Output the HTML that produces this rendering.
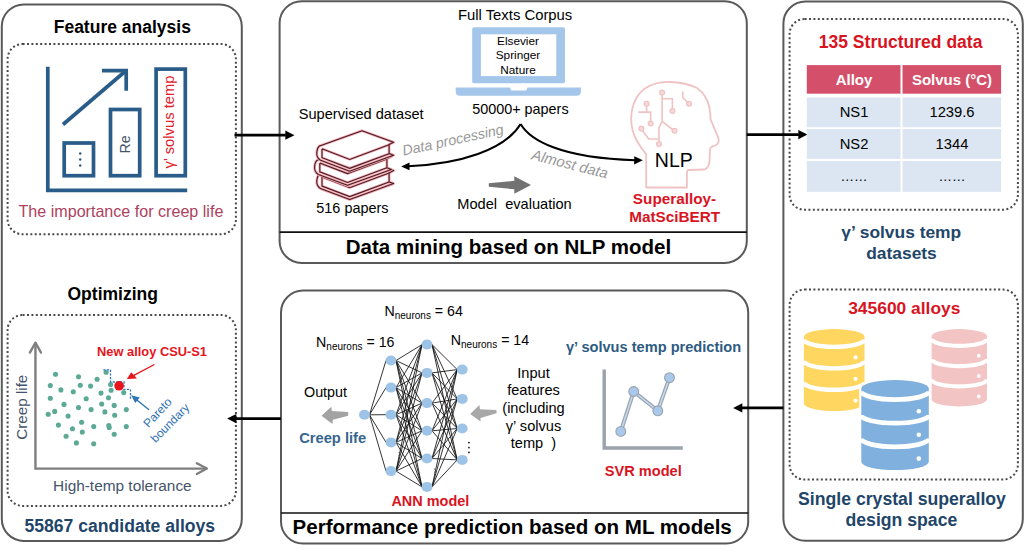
<!DOCTYPE html>
<html><head><meta charset="utf-8"><style>
html,body{margin:0;padding:0;background:#fff;}
svg{display:block;font-family:"Liberation Sans", sans-serif;}
</style></head><body>
<svg width="1024" height="552" viewBox="0 0 1024 552">
<rect width="1024" height="552" fill="#fff"/>
<rect x="1.8" y="4.4" width="240.0" height="536.6" rx="22" ry="22" fill="none" stroke="#595959" stroke-width="2"/>
<rect x="279.6" y="1.2" width="467.19999999999993" height="261.7" rx="22" ry="22" fill="none" stroke="#595959" stroke-width="2"/>
<rect x="281.0" y="290.5" width="467.20000000000005" height="253.10000000000002" rx="22" ry="22" fill="none" stroke="#595959" stroke-width="2"/>
<rect x="783.4" y="1.5" width="239.39999999999998" height="539.3" rx="22" ry="22" fill="none" stroke="#595959" stroke-width="2"/>
<line x1="279.6" y1="232.2" x2="746.8" y2="232.2" stroke="#111" stroke-width="1.7"/>
<line x1="281" y1="513" x2="748.2" y2="513" stroke="#111" stroke-width="1.7"/>
<rect x="7.6" y="44.0" width="228.3" height="190.3" rx="15" ry="15" fill="none" stroke="#4a4a4a" stroke-width="2" stroke-dasharray="2 2.4"/>
<rect x="7.6" y="315.0" width="228.3" height="190.89999999999998" rx="15" ry="15" fill="none" stroke="#4a4a4a" stroke-width="2" stroke-dasharray="2 2.4"/>
<rect x="789.6" y="19.0" width="228.29999999999995" height="190.8" rx="15" ry="15" fill="none" stroke="#4a4a4a" stroke-width="2" stroke-dasharray="2 2.4"/>
<rect x="789.6" y="289.6" width="228.29999999999995" height="190.0" rx="15" ry="15" fill="none" stroke="#4a4a4a" stroke-width="2" stroke-dasharray="2 2.4"/>
<line x1="234.5" y1="135.2" x2="285.8" y2="135.2" stroke="#000" stroke-width="2.7"/>
<polygon points="294.5,135.2 285.3,130.6 285.3,139.79999999999998" fill="#000"/>
<line x1="746.8" y1="134.6" x2="798.8" y2="134.6" stroke="#000" stroke-width="2.7"/>
<polygon points="807.5,134.6 798.3,130.0 798.3,139.2" fill="#000"/>
<line x1="783.4" y1="407.9" x2="741.8000000000001" y2="407.9" stroke="#000" stroke-width="2.7"/>
<polygon points="733.1,407.9 742.3000000000001,403.29999999999995 742.3000000000001,412.5" fill="#000"/>
<line x1="280.9" y1="418.6" x2="235.79999999999998" y2="418.6" stroke="#000" stroke-width="2.7"/>
<polygon points="227.1,418.6 236.29999999999998,414.0 236.29999999999998,423.20000000000005" fill="#000"/>
<text x="122.3" y="33.4" font-size="17.5" font-weight="bold"  fill="#000" text-anchor="middle" >Feature analysis</text>
<polyline points="47.8,66.8 47.8,190.4 187.2,190.4" fill="none" stroke="#295c88" stroke-width="3.7"/>
<rect x="64.2" y="143" width="29.3" height="32.7" fill="none" stroke="#295c88" stroke-width="3.7"/>
<rect x="110.5" y="109.5" width="29.2" height="66.2" fill="none" stroke="#295c88" stroke-width="3.7"/>
<rect x="156.1" y="69.1" width="29.2" height="106.6" fill="none" stroke="#295c88" stroke-width="3.7"/>
<line x1="63" y1="124.5" x2="125" y2="71.5" stroke="#295c88" stroke-width="3.7"/>
<polyline points="102,70.6 126.2,70.6 126.2,90.7" fill="none" stroke="#295c88" stroke-width="3.7"/>
<circle cx="80.2" cy="153.5" r="1.2" fill="#2f5678"/>
<circle cx="80.2" cy="159.5" r="1.2" fill="#2f5678"/>
<circle cx="80.2" cy="165.5" r="1.2" fill="#2f5678"/>
<text x="0" y="0" font-size="14.2" fill="#44546a" text-anchor="middle" transform="translate(130.4,144.5) rotate(-90)">Re</text>
<text x="0" y="0" font-size="14.8" fill="#e0202a" text-anchor="middle" transform="translate(174.3,122) rotate(-90)">γ’ solvus temp</text>
<text x="18.5" y="216.8" font-size="16.1"   fill="#ad4260" text-anchor="start" >The importance for creep life</text>
<text x="67.5" y="299.6" font-size="17.5" font-weight="bold"  fill="#000" text-anchor="start" >Optimizing</text>
<polyline points="35.45,343 35.45,468.6 206.5,468.6" fill="none" stroke="#7f7f7f" stroke-width="2.4"/>
<polyline points="29.9,352.6 35.45,342.6 41,352.6" fill="none" stroke="#7f7f7f" stroke-width="2.3" stroke-linecap="round" stroke-linejoin="round"/>
<polyline points="196.8,463.3 206.9,468.6 196.8,474" fill="none" stroke="#7f7f7f" stroke-width="2.3" stroke-linecap="round" stroke-linejoin="round"/>
<text x="0" y="0" font-size="15.2" fill="#44546a" text-anchor="middle" transform="translate(27.2,407.2) rotate(-90)">Creep life</text>
<text x="53.1" y="490.8" font-size="15.4"   fill="#44546a" text-anchor="start" >High-temp tolerance</text>
<circle cx="55.5" cy="374.2" r="2.55" fill="#5caa96"/>
<circle cx="78.5" cy="376.8" r="2.55" fill="#5caa96"/>
<circle cx="97.1" cy="379.2" r="2.55" fill="#5caa96"/>
<circle cx="106.1" cy="372.2" r="2.55" fill="#5caa96"/>
<circle cx="50.3" cy="385.6" r="2.55" fill="#5caa96"/>
<circle cx="60.9" cy="389.9" r="2.55" fill="#5caa96"/>
<circle cx="73.3" cy="391.8" r="2.55" fill="#5caa96"/>
<circle cx="80.3" cy="385.3" r="2.55" fill="#5caa96"/>
<circle cx="90.6" cy="386.1" r="2.55" fill="#5caa96"/>
<circle cx="110.6" cy="384.5" r="2.55" fill="#5caa96"/>
<circle cx="111.1" cy="390.3" r="2.55" fill="#5caa96"/>
<circle cx="101" cy="393.1" r="2.55" fill="#5caa96"/>
<circle cx="123.7" cy="392.6" r="2.55" fill="#5caa96"/>
<circle cx="50.3" cy="398.3" r="2.55" fill="#5caa96"/>
<circle cx="86.2" cy="398.8" r="2.55" fill="#5caa96"/>
<circle cx="108.5" cy="397.7" r="2.55" fill="#5caa96"/>
<circle cx="64" cy="404.4" r="2.55" fill="#5caa96"/>
<circle cx="78.5" cy="407.6" r="2.55" fill="#5caa96"/>
<circle cx="101.7" cy="404" r="2.55" fill="#5caa96"/>
<circle cx="114.2" cy="405.4" r="2.55" fill="#5caa96"/>
<circle cx="54.7" cy="411.4" r="2.55" fill="#5caa96"/>
<circle cx="48.2" cy="414.3" r="2.55" fill="#5caa96"/>
<circle cx="68.1" cy="416.1" r="2.55" fill="#5caa96"/>
<circle cx="91.1" cy="409.6" r="2.55" fill="#5caa96"/>
<circle cx="104.9" cy="411.9" r="2.55" fill="#5caa96"/>
<circle cx="114.7" cy="415.3" r="2.55" fill="#5caa96"/>
<circle cx="126.3" cy="409.6" r="2.55" fill="#5caa96"/>
<circle cx="58.4" cy="425.1" r="2.55" fill="#5caa96"/>
<circle cx="81.6" cy="422.2" r="2.55" fill="#5caa96"/>
<circle cx="72.5" cy="428.8" r="2.55" fill="#5caa96"/>
<circle cx="93.7" cy="426.6" r="2.55" fill="#5caa96"/>
<circle cx="108.8" cy="425.6" r="2.55" fill="#5caa96"/>
<circle cx="109.2" cy="427.5" r="2.55" fill="#5caa96"/>
<circle cx="126.3" cy="426.6" r="2.55" fill="#5caa96"/>
<circle cx="82.3" cy="432.1" r="2.55" fill="#5caa96"/>
<circle cx="66.1" cy="436.2" r="2.55" fill="#5caa96"/>
<circle cx="114.2" cy="434.2" r="2.55" fill="#5caa96"/>
<circle cx="76.4" cy="442.9" r="2.55" fill="#5caa96"/>
<circle cx="93.7" cy="443.8" r="2.55" fill="#5caa96"/>
<polyline points="103.3,369.8 110.5,369.8 110.5,382 124,382 124,389.4 130.5,389.4 130.5,400" fill="none" stroke="#2e75b6" stroke-width="1.3" stroke-dasharray="2.2 1.4"/>
<circle cx="119.1" cy="385.8" r="4.8" fill="#e8141c"/>
<line x1="154.4" y1="364.5" x2="132" y2="376.3" stroke="#e8141c" stroke-width="1.4"/>
<polygon points="126.9,379 131.2,372.3 137,378.5" fill="#e8141c"/>
<line x1="149" y1="409.8" x2="135" y2="398.5" stroke="#2e75b6" stroke-width="1.4"/>
<polygon points="131.2,395.3 139.8,397.6 135.2,403" fill="#2e75b6"/>
<text x="97.1" y="356" font-size="12.85" font-weight="bold"  fill="#e8141c" text-anchor="start" >New alloy CSU-S1</text>
<text font-size="12.0" fill="#3070b0" transform="translate(148.5,428.3) rotate(-47)">Pareto</text>
<text font-size="11.8" fill="#3070b0" transform="translate(155.5,443.2) rotate(-45)">boundary</text>
<text x="24.4" y="531.6" font-size="17.6" font-weight="bold"  fill="#1f4669" text-anchor="start" >55867 candidate alloys</text>
<text x="457.9" y="20.2" font-size="14.85"   fill="#000" text-anchor="start" >Full Texts Corpus</text>
<rect x="472.2" y="27.2" width="92.8" height="56.1" rx="2" fill="#a4c6ea"/>
<rect x="480.9" y="34.3" width="75.4" height="41.8" fill="#fff"/>
<path d="M455.7,87.5 H580.9 V91.3 Q580.9,95.8 576.4,95.8 H460.2 Q455.7,95.8 455.7,91.3 Z" fill="#a4c6ea"/>
<path d="M509.8,87 H527.6 L526.2,90.5 H511.2 Z" fill="#fff"/>
<text x="518" y="45.2" font-size="11.8"   fill="#000" text-anchor="middle" >Elsevier</text>
<text x="518" y="59.3" font-size="11.8"   fill="#000" text-anchor="middle" >Springer</text>
<text x="518" y="73.5" font-size="11.8"   fill="#000" text-anchor="middle" >Nature</text>
<text x="472.2" y="114.1" font-size="14.4"   fill="#000" text-anchor="start" >50000+ papers</text>
<text x="298.7" y="118.5" font-size="14.6"   fill="#000" text-anchor="start" >Supervised dataset</text>
<text x="316.3" y="212.6" font-size="14.45"   fill="#000" text-anchor="start" >516 papers</text>
<g transform="translate(0,28.3)"><path d="M319.5,146 L362,130.8 L393.6,142.3 L389.1,144.6 L389.1,153.6 L393.6,155.3 L349.7,171.2 L320.5,160.3 Q316.3,157.5 316.8,152.5 Q317.3,147.5 319.5,146 Z" fill="#fff" stroke="#f2a8b0" stroke-width="2.8" stroke-linejoin="round"/><path d="M322,148.8 L349.7,159.4 L389.1,144.8 M322,148.8 L322,157.7 L349.7,168.3 L389.1,153.7" fill="none" stroke="#f2a8b0" stroke-width="2.6"/><path d="M319.5,146 L362,130.8 L393.6,142.3 L389.1,144.6 L389.1,153.6 L393.6,155.3 L349.7,171.2 L320.5,160.3 Q316.3,157.5 316.8,152.5 Q317.3,147.5 319.5,146 Z" fill="none" stroke="#4a1c24" stroke-width="1.1" stroke-linejoin="round"/><path d="M322,148.8 L349.7,159.4 L389.1,144.8 M322,148.8 L322,157.7 L349.7,168.3 L389.1,153.7" fill="none" stroke="#4a1c24" stroke-width="1.1"/></g>
<g transform="translate(-2.2,14.15)"><path d="M319.5,146 L362,130.8 L393.6,142.3 L389.1,144.6 L389.1,153.6 L393.6,155.3 L349.7,171.2 L320.5,160.3 Q316.3,157.5 316.8,152.5 Q317.3,147.5 319.5,146 Z" fill="#fff" stroke="#f2a8b0" stroke-width="2.8" stroke-linejoin="round"/><path d="M322,148.8 L349.7,159.4 L389.1,144.8 M322,148.8 L322,157.7 L349.7,168.3 L389.1,153.7" fill="none" stroke="#f2a8b0" stroke-width="2.6"/><path d="M319.5,146 L362,130.8 L393.6,142.3 L389.1,144.6 L389.1,153.6 L393.6,155.3 L349.7,171.2 L320.5,160.3 Q316.3,157.5 316.8,152.5 Q317.3,147.5 319.5,146 Z" fill="none" stroke="#4a1c24" stroke-width="1.1" stroke-linejoin="round"/><path d="M322,148.8 L349.7,159.4 L389.1,144.8 M322,148.8 L322,157.7 L349.7,168.3 L389.1,153.7" fill="none" stroke="#4a1c24" stroke-width="1.1"/></g>
<g transform="translate(0,0)"><path d="M319.5,146 L362,130.8 L393.6,142.3 L389.1,144.6 L389.1,153.6 L393.6,155.3 L349.7,171.2 L320.5,160.3 Q316.3,157.5 316.8,152.5 Q317.3,147.5 319.5,146 Z" fill="#fff" stroke="#f2a8b0" stroke-width="2.8" stroke-linejoin="round"/><path d="M322,148.8 L349.7,159.4 L389.1,144.8 M322,148.8 L322,157.7 L349.7,168.3 L389.1,153.7" fill="none" stroke="#f2a8b0" stroke-width="2.6"/><path d="M319.5,146 L362,130.8 L393.6,142.3 L389.1,144.6 L389.1,153.6 L393.6,155.3 L349.7,171.2 L320.5,160.3 Q316.3,157.5 316.8,152.5 Q317.3,147.5 319.5,146 Z" fill="none" stroke="#4a1c24" stroke-width="1.1" stroke-linejoin="round"/><path d="M322,148.8 L349.7,159.4 L389.1,144.8 M322,148.8 L322,157.7 L349.7,168.3 L389.1,153.7" fill="none" stroke="#4a1c24" stroke-width="1.1"/></g>
<path d="M520.6,124 C505,150 460,164 408,166.3" fill="none" stroke="#000" stroke-width="2"/>
<polygon points="401.2,166.4 409.5,162.6 409.5,170.2" fill="#000"/>
<path d="M520.6,124 C530,140 560,158 635,160.2" fill="none" stroke="#000" stroke-width="2"/>
<polygon points="642.8,160.3 634.3,156.2 634.1,164.6" fill="#000"/>
<text font-size="14.3" font-style="italic" fill="#999" transform="translate(403.4,155.6) rotate(-12.2)">Data processing</text>
<text font-size="14.8" font-style="italic" fill="#999" transform="translate(530.8,159.2) rotate(14.4)">Almost data</text>
<path d="M488.8,183.2 L514.3,180.8 L514.3,176.2 L531,185.1 L514.3,193.7 L514.3,189.3 L488.8,186.7 Z" fill="#727272"/>
<text x="457.3" y="209.2" font-size="14.6"   fill="#000" text-anchor="start" >Model&#160; evaluation</text>
<path d="M646.2,187.5 L646.2,154.4 Q641,148 637,141 Q631,131 631.2,118 Q632,98 645,88.5 Q656,81.5 669.3,82 Q686,82.5 697,88 Q707,95 709.5,108 Q710.5,114 710.6,119.3 L718.2,137.5 Q719.5,141 717.5,143.5 Q716.5,145.8 712,146.5 L710.2,148.5 Q709.6,154 709.6,160.6 Q709,168 704.5,169.5 L688,170 Q686.9,171 686.9,173 L686.9,187.5 Z" fill="none" stroke="#efc3c3" stroke-width="1.8" stroke-linejoin="round"/>
<path d="M662.1,94.9 V121.4 L672.6,129.5 M662.1,98.7 H672.4 V108.6 M662.1,121.4 L659,127.6 V141.7 M646.6,106.2 V112.1 M638.3,112.1 H650.7 V121.1 M642.6,130.7 L648.7,139 H659 M682.8,91.4 V97.6 L687.3,102" fill="none" stroke="#efc3c3" stroke-width="1.6"/>
<circle cx="662.1" cy="92.5" r="2.4" fill="#f8dada" stroke="#efc3c3" stroke-width="1.3"/>
<circle cx="672.4" cy="111" r="2.4" fill="#f8dada" stroke="#efc3c3" stroke-width="1.3"/>
<circle cx="674.5" cy="130.7" r="2.4" fill="#f8dada" stroke="#efc3c3" stroke-width="1.3"/>
<circle cx="659" cy="144.1" r="2.4" fill="#f8dada" stroke="#efc3c3" stroke-width="1.3"/>
<circle cx="646.6" cy="103.8" r="2.4" fill="#f8dada" stroke="#efc3c3" stroke-width="1.3"/>
<circle cx="650.7" cy="123.5" r="2.4" fill="#f8dada" stroke="#efc3c3" stroke-width="1.3"/>
<circle cx="641.4" cy="128.6" r="2.4" fill="#f8dada" stroke="#efc3c3" stroke-width="1.3"/>
<circle cx="689" cy="103.8" r="2.4" fill="#f8dada" stroke="#efc3c3" stroke-width="1.3"/>
<text x="673.8" y="167.4" font-size="19.5"   fill="#000" text-anchor="middle" >NLP</text>
<text x="674.5" y="204.1" font-size="15.3" font-weight="bold"  fill="#d8141f" text-anchor="middle" >Superalloy-</text>
<text x="674.75" y="222.3" font-size="15.3" font-weight="bold"  fill="#d8141f" text-anchor="middle" >MatSciBERT</text>
<text x="345.8" y="254.4" font-size="20.5" font-weight="bold"  fill="#000" text-anchor="start" >Data mining based on NLP model</text>
<text x="900.6" y="48.3" font-size="17.55" font-weight="bold"  fill="#d8141f" text-anchor="middle" >135 Structured data</text>
<rect x="806.8" y="65.1" width="194.3" height="28.6" fill="#d4506a"/>
<rect x="806.8" y="97.5" width="194.3" height="29.700000000000003" fill="#dce6f2"/>
<rect x="806.8" y="129" width="194.3" height="29.900000000000006" fill="#dce6f2"/>
<rect x="806.8" y="161" width="194.3" height="30.900000000000006" fill="#dce6f2"/>
<rect x="900.5" y="65" width="2" height="127" fill="#fff"/>
<text x="854" y="85.4" font-size="15" font-weight="bold"  fill="#fff" text-anchor="middle" >Alloy</text>
<text x="952" y="85.4" font-size="15" font-weight="bold"  fill="#fff" text-anchor="middle" >Solvus (°C)</text>
<text x="854" y="117.1" font-size="14.75"   fill="#000" text-anchor="middle" >NS1</text>
<text x="952" y="117.1" font-size="14.75"   fill="#000" text-anchor="middle" >1239.6</text>
<text x="854" y="148.8" font-size="14.75"   fill="#000" text-anchor="middle" >NS2</text>
<text x="952" y="148.8" font-size="14.75"   fill="#000" text-anchor="middle" >1344</text>
<text x="854" y="180.5" font-size="13.5"   fill="#000" text-anchor="middle" >……</text>
<text x="952" y="180.5" font-size="13.5"   fill="#000" text-anchor="middle" >……</text>
<text x="901.3" y="237.7" font-size="17.4" font-weight="bold"  fill="#1f4669" text-anchor="middle" >γ’ solvus temp</text>
<text x="901.5" y="258.5" font-size="17.4" font-weight="bold"  fill="#1f4669" text-anchor="middle" >datasets</text>
<text x="904.3" y="313.7" font-size="17.4" font-weight="bold"  fill="#d8141f" text-anchor="middle" >345600 alloys</text>
<g transform="translate(931.6,329.1) scale(0.8207407407407408,0.8588888888888888)" ><path d="M0,8.3 A33.75,8.3 0 0 1 67.5,8.3 V81.7 A33.75,8.3 0 0 1 0,81.7 Z" fill="#f2c4c4"/><path d="M0,11.2 A33.75,8.3 0 0 0 67.5,11.2" fill="none" stroke="#fff" stroke-width="4.8"/><path d="M0,34.8 A33.75,8.3 0 0 0 67.5,34.8" fill="none" stroke="#fff" stroke-width="4.8"/><path d="M0,58.4 A33.75,8.3 0 0 0 67.5,58.4" fill="none" stroke="#fff" stroke-width="4.8"/><ellipse cx="57.5" cy="31.1" rx="2.3" ry="2.3" fill="#fff"/><ellipse cx="57.5" cy="54.6" rx="2.3" ry="2.3" fill="#fff"/><ellipse cx="57.5" cy="78.5" rx="2.3" ry="2.3" fill="#fff"/></g>
<g transform="translate(803.9,329.1) scale(0.8977777777777778,0.91)" ><path d="M0,8.3 A33.75,8.3 0 0 1 67.5,8.3 V81.7 A33.75,8.3 0 0 1 0,81.7 Z" fill="#ffd660"/><path d="M0,11.2 A33.75,8.3 0 0 0 67.5,11.2" fill="none" stroke="#fff" stroke-width="4.8"/><path d="M0,34.8 A33.75,8.3 0 0 0 67.5,34.8" fill="none" stroke="#fff" stroke-width="4.8"/><path d="M0,58.4 A33.75,8.3 0 0 0 67.5,58.4" fill="none" stroke="#fff" stroke-width="4.8"/><ellipse cx="57.5" cy="31.1" rx="2.3" ry="2.3" fill="#fff"/><ellipse cx="57.5" cy="54.6" rx="2.3" ry="2.3" fill="#fff"/><ellipse cx="57.5" cy="78.5" rx="2.3" ry="2.3" fill="#fff"/></g>
<g transform="translate(861.3,380.1) scale(1.0,1.0)" ><path d="M0,8.3 A33.75,8.3 0 0 1 67.5,8.3 V81.7 A33.75,8.3 0 0 1 0,81.7 Z" fill="#fff" stroke="#fff" stroke-width="4"/><path d="M0,8.3 A33.75,8.3 0 0 1 67.5,8.3 V81.7 A33.75,8.3 0 0 1 0,81.7 Z" fill="#7fb0de"/><path d="M0,11.2 A33.75,8.3 0 0 0 67.5,11.2" fill="none" stroke="#fff" stroke-width="4.8"/><path d="M0,34.8 A33.75,8.3 0 0 0 67.5,34.8" fill="none" stroke="#fff" stroke-width="4.8"/><path d="M0,58.4 A33.75,8.3 0 0 0 67.5,58.4" fill="none" stroke="#fff" stroke-width="4.8"/><ellipse cx="57.5" cy="31.1" rx="2.3" ry="2.3" fill="#fff"/><ellipse cx="57.5" cy="54.6" rx="2.3" ry="2.3" fill="#fff"/><ellipse cx="57.5" cy="78.5" rx="2.3" ry="2.3" fill="#fff"/></g>
<text x="902" y="504.7" font-size="17.65" font-weight="bold"  fill="#1f4669" text-anchor="middle" >Single crystal superalloy</text>
<text x="901.4" y="525.5" font-size="17.65" font-weight="bold"  fill="#1f4669" text-anchor="middle" >design space</text>
<text x="384.5" y="316.4" font-size="14.2">N<tspan font-size="10" dy="3">neurons</tspan><tspan dy="-3"> = 64</tspan></text>
<text x="316.1" y="347.2" font-size="14.2">N<tspan font-size="10" dy="3">neurons</tspan><tspan dy="-3"> = 16</tspan></text>
<text x="450.8" y="345.3" font-size="14.2">N<tspan font-size="10" dy="3">neurons</tspan><tspan dy="-3"> = 14</tspan></text>
<path d="M369.5,414.8 L386,360.5 M369.5,414.8 L386,387.6 M369.5,414.8 L386,414.70000000000005 M369.5,414.8 L386,442.40000000000003 M369.5,414.8 L386,471.1 M396,360.5 L422,344.59999999999997 M396,360.5 L422,372.9 M396,360.5 L422,403.09999999999997 M396,360.5 L422,430.8 M396,360.5 L422,458.5 M396,360.5 L422,486.9 M396,387.6 L422,344.59999999999997 M396,387.6 L422,372.9 M396,387.6 L422,403.09999999999997 M396,387.6 L422,430.8 M396,387.6 L422,458.5 M396,387.6 L422,486.9 M396,414.70000000000005 L422,344.59999999999997 M396,414.70000000000005 L422,372.9 M396,414.70000000000005 L422,403.09999999999997 M396,414.70000000000005 L422,430.8 M396,414.70000000000005 L422,458.5 M396,414.70000000000005 L422,486.9 M396,442.40000000000003 L422,344.59999999999997 M396,442.40000000000003 L422,372.9 M396,442.40000000000003 L422,403.09999999999997 M396,442.40000000000003 L422,430.8 M396,442.40000000000003 L422,458.5 M396,442.40000000000003 L422,486.9 M396,471.1 L422,344.59999999999997 M396,471.1 L422,372.9 M396,471.1 L422,403.09999999999997 M396,471.1 L422,430.8 M396,471.1 L422,458.5 M396,471.1 L422,486.9 M432,344.59999999999997 L457.2,369.6 M432,344.59999999999997 L457.2,398.9 M432,344.59999999999997 L457.2,428.5 M432,344.59999999999997 L457.2,459.9 M432,372.9 L457.2,369.6 M432,372.9 L457.2,398.9 M432,372.9 L457.2,428.5 M432,372.9 L457.2,459.9 M432,403.09999999999997 L457.2,369.6 M432,403.09999999999997 L457.2,398.9 M432,403.09999999999997 L457.2,428.5 M432,403.09999999999997 L457.2,459.9 M432,430.8 L457.2,369.6 M432,430.8 L457.2,398.9 M432,430.8 L457.2,428.5 M432,430.8 L457.2,459.9 M432,458.5 L457.2,369.6 M432,458.5 L457.2,398.9 M432,458.5 L457.2,428.5 M432,458.5 L457.2,459.9 M432,486.9 L457.2,369.6 M432,486.9 L457.2,398.9 M432,486.9 L457.2,428.5 M432,486.9 L457.2,459.9" stroke="#111" stroke-width="0.85" fill="none"/>
<ellipse cx="364.5" cy="414.8" rx="5.5" ry="5.0" fill="#9dc3e6"/>
<ellipse cx="391" cy="360.5" rx="5.5" ry="5.0" fill="#9dc3e6"/>
<ellipse cx="391" cy="387.6" rx="5.5" ry="5.0" fill="#9dc3e6"/>
<ellipse cx="391" cy="414.70000000000005" rx="5.5" ry="5.0" fill="#9dc3e6"/>
<ellipse cx="391" cy="442.40000000000003" rx="5.5" ry="5.0" fill="#9dc3e6"/>
<ellipse cx="391" cy="471.1" rx="5.5" ry="5.0" fill="#9dc3e6"/>
<ellipse cx="427" cy="344.59999999999997" rx="5.5" ry="5.0" fill="#9dc3e6"/>
<ellipse cx="427" cy="372.9" rx="5.5" ry="5.0" fill="#9dc3e6"/>
<ellipse cx="427" cy="403.09999999999997" rx="5.5" ry="5.0" fill="#9dc3e6"/>
<ellipse cx="427" cy="430.8" rx="5.5" ry="5.0" fill="#9dc3e6"/>
<ellipse cx="427" cy="458.5" rx="5.5" ry="5.0" fill="#9dc3e6"/>
<ellipse cx="427" cy="486.9" rx="5.5" ry="5.0" fill="#9dc3e6"/>
<ellipse cx="462.2" cy="369.6" rx="5.5" ry="5.0" fill="#9dc3e6"/>
<ellipse cx="462.2" cy="398.9" rx="5.5" ry="5.0" fill="#9dc3e6"/>
<ellipse cx="462.2" cy="428.5" rx="5.5" ry="5.0" fill="#9dc3e6"/>
<ellipse cx="462.2" cy="459.9" rx="5.5" ry="5.0" fill="#9dc3e6"/>
<circle cx="468.9" cy="442.6" r="0.95" fill="#222"/>
<circle cx="468.9" cy="447.6" r="0.95" fill="#222"/>
<circle cx="468.9" cy="452.4" r="0.95" fill="#222"/>
<circle cx="399.2" cy="452.5" r="0.6" fill="#333"/>
<circle cx="399.2" cy="455.5" r="0.6" fill="#333"/>
<circle cx="399.2" cy="458.5" r="0.6" fill="#333"/>
<circle cx="434.6" cy="469" r="0.6" fill="#333"/>
<circle cx="434.6" cy="472" r="0.6" fill="#333"/>
<circle cx="434.6" cy="475" r="0.6" fill="#333"/>
<text x="304" y="397.4" font-size="14.33"   fill="#000" text-anchor="start" >Output</text>
<path d="M348.2,412 L331.8,411.1 L331.3,406.8 L321.5,415.8 L332.4,423.9 L332.9,419.8 L348.2,415.8 Z" fill="#a3a3a3"/>
<text x="299.2" y="443.0" font-size="14.7" font-weight="bold"  fill="#36658f" text-anchor="start" >Creep life</text>
<text x="391.4" y="505.9" font-size="14.46" font-weight="bold"  fill="#d8141f" text-anchor="start" >ANN model</text>
<path d="M496.5,410.1 L479.9,409.2 L479.4,404.9 L470.2,413.9 L480.5,421.5 L480.5,417.9 L496.5,413.3 Z" fill="#a8a8a8"/>
<text x="533.5" y="377.7" font-size="14.6"   fill="#000" text-anchor="middle" >Input</text>
<text x="533.5" y="395.4" font-size="14.6"   fill="#000" text-anchor="middle" >features</text>
<text x="533.5" y="413.0" font-size="14.6"   fill="#000" text-anchor="middle" >(including</text>
<text x="533.5" y="430.6" font-size="14.6"   fill="#000" text-anchor="middle" >γ’ solvus</text>
<text x="533.5" y="448.0" font-size="14.6"   fill="#000" text-anchor="middle" >temp&#160; )</text>
<text x="566" y="352.0" font-size="14.6" font-weight="bold"  fill="#2e5b82" text-anchor="start" >γ’ solvus temp prediction</text>
<polyline points="604.2,369.5 604.2,448 682.8,448" fill="none" stroke="#9aa3ad" stroke-width="3.4"/>
<polyline points="620.8,431.4 633.7,391.5 657.8,410.8 669.5,377.7" fill="none" stroke="#9aa3ad" stroke-width="4"/>
<polyline points="620.8,431.4 633.7,391.5 657.8,410.8 669.5,377.7" fill="none" stroke="#c5d8ee" stroke-width="1.6"/>
<circle cx="620.8" cy="431.4" r="4.9" fill="#a9c8ec" stroke="#9aa3ad" stroke-width="1.1"/>
<circle cx="633.7" cy="391.5" r="4.9" fill="#a9c8ec" stroke="#9aa3ad" stroke-width="1.1"/>
<circle cx="657.8" cy="410.8" r="4.9" fill="#a9c8ec" stroke="#9aa3ad" stroke-width="1.1"/>
<circle cx="669.5" cy="377.7" r="4.9" fill="#a9c8ec" stroke="#9aa3ad" stroke-width="1.1"/>
<text x="604.8" y="475.6" font-size="14.59" font-weight="bold"  fill="#d8141f" text-anchor="start" >SVR model</text>
<text x="292.6" y="533.9" font-size="20.56" font-weight="bold"  fill="#000" text-anchor="start" >Performance prediction based on ML models</text>
</svg>
</body></html>
